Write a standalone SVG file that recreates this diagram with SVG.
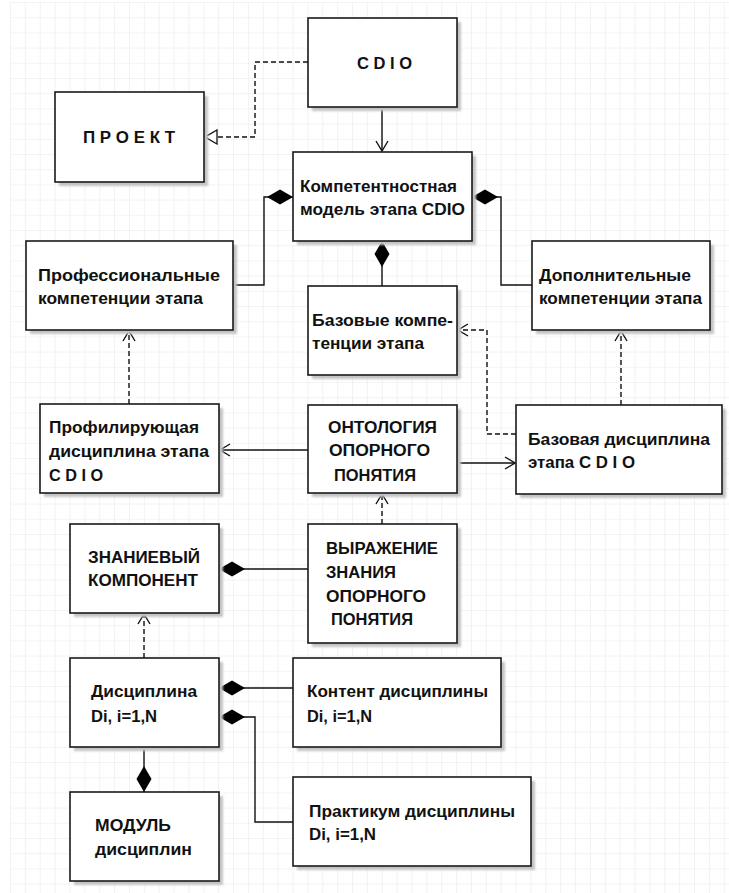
<svg xmlns="http://www.w3.org/2000/svg" width="729" height="893" viewBox="0 0 729 893">
<defs>
<pattern id="grid" x="10" y="2" width="14.87" height="15.2" patternUnits="userSpaceOnUse">
<path d="M0,0 H14.87 M0,0 V15.2" fill="none" stroke="#efefef" stroke-width="1.6"/>
</pattern>
<marker id="open" markerUnits="userSpaceOnUse" viewBox="0 0 12 14" markerWidth="12" markerHeight="14" refX="11" refY="7" orient="auto">
<path d="M1,1 L11,7 L1,13" fill="none" stroke="#111" stroke-width="1.4"/>
</marker>
<marker id="tri" markerUnits="userSpaceOnUse" viewBox="0 0 14 16" markerWidth="14" markerHeight="16" refX="13" refY="8" orient="auto">
<path d="M1,1 L13,8 L1,15 Z" fill="#fff" stroke="#111" stroke-width="1.3"/>
</marker>
<marker id="dia" markerUnits="userSpaceOnUse" viewBox="-1 -9 28 18" markerWidth="28" markerHeight="18" refX="0" refY="0" orient="auto">
<path d="M0,0 L13,-7.5 L26,0 L13,7.5 Z" fill="#000"/>
</marker>
<filter id="sh" x="-10%" y="-10%" width="130%" height="130%">
<feGaussianBlur stdDeviation="1.2"/>
</filter>
</defs>
<style>
.bx{fill:#fff;stroke:#1a1a1a;stroke-width:1.6}
.sd{fill:#c4c4c4;filter:url(#sh)}
.t{font-family:"Liberation Sans",Arial,sans-serif;font-weight:bold;font-size:16px;fill:#111}
.c{fill:none;stroke:#111;stroke-width:1.4}
.d{fill:none;stroke:#111;stroke-width:1.4;stroke-dasharray:5,3}
</style>
<rect x="0" y="0" width="729" height="893" fill="#fff"/>
<rect x="10" y="2" width="719" height="891" fill="url(#grid)"/>

<g id="connectors">
<path class="c" d="M382,107 V151" marker-end="url(#open)"/>
<path class="d" d="M308,62 H255 V137 H205" marker-end="url(#tri)"/>
<path class="c" d="M293,197 H264 V285 H233" marker-start="url(#dia)"/>
<path class="c" d="M472,197 H501 V285 H532" marker-start="url(#dia)"/>
<path class="c" d="M382,241 V286" marker-start="url(#dia)"/>
<path class="d" d="M129,404 V331" marker-end="url(#open)"/>
<path class="d" d="M621,405 V331" marker-end="url(#open)"/>
<path class="d" d="M516,434 H487 V330 H458" marker-end="url(#open)"/>
<path class="c" d="M308,450 H220" marker-end="url(#open)"/>
<path class="c" d="M457,463 H515" marker-end="url(#open)"/>
<path class="d" d="M382,524 V494" marker-end="url(#open)"/>
<path class="c" d="M219,569 H308" marker-start="url(#dia)"/>
<path class="d" d="M144,658 V614" marker-end="url(#open)"/>
<path class="c" d="M219,688 H293" marker-start="url(#dia)"/>
<path class="c" d="M219,717 H255 V822 H293" marker-start="url(#dia)"/>
<path class="c" d="M144,792 V747" marker-start="url(#dia)"/>
</g>

<g id="cdio">
<rect class="sd" x="312" y="22" width="149" height="89"/>
<rect class="bx" x="308" y="18" width="149" height="89"/>
<text class="t" x="357" y="69" textLength="55" lengthAdjust="spacingAndGlyphs">C D I O</text>
</g>
<g id="proekt">
<rect class="sd" x="59" y="96" width="149" height="90"/>
<rect class="bx" x="55" y="92" width="149" height="90"/>
<text class="t" x="83" y="143" textLength="92" lengthAdjust="spacingAndGlyphs">П Р О Е К Т</text>
</g>
<g id="komp">
<rect class="sd" x="297" y="156" width="179" height="89"/>
<rect class="bx" x="293" y="152" width="179" height="89"/>
<text class="t" x="300" y="192" textLength="157" lengthAdjust="spacingAndGlyphs">Компетентностная</text>
<text class="t" x="300" y="215" textLength="165" lengthAdjust="spacingAndGlyphs">модель этапа CDIO</text>
</g>
<g id="prof">
<rect class="sd" x="30" y="245" width="207" height="89"/>
<rect class="bx" x="26" y="241" width="207" height="89"/>
<text class="t" x="38" y="281" textLength="182" lengthAdjust="spacingAndGlyphs">Профессиональные</text>
<text class="t" x="38" y="304" textLength="165" lengthAdjust="spacingAndGlyphs">компетенции этапа</text>
</g>
<g id="baz">
<rect class="sd" x="312" y="290" width="149" height="89"/>
<rect class="bx" x="308" y="286" width="149" height="89"/>
<text class="t" x="312" y="326" textLength="141" lengthAdjust="spacingAndGlyphs">Базовые компе-</text>
<text class="t" x="312" y="349" textLength="112" lengthAdjust="spacingAndGlyphs">тенции этапа</text>
</g>
<g id="dop">
<rect class="sd" x="536" y="245" width="178" height="89"/>
<rect class="bx" x="532" y="241" width="178" height="89"/>
<text class="t" x="539" y="281" textLength="152" lengthAdjust="spacingAndGlyphs">Дополнительные</text>
<text class="t" x="539" y="304" textLength="163" lengthAdjust="spacingAndGlyphs">компетенции этапа</text>
</g>
<g id="profdisc">
<rect class="sd" x="44" y="408" width="179" height="89"/>
<rect class="bx" x="40" y="404" width="179" height="89"/>
<text class="t" x="49" y="433" textLength="150" lengthAdjust="spacingAndGlyphs">Профилирующая</text>
<text class="t" x="49" y="457" textLength="160" lengthAdjust="spacingAndGlyphs">дисциплина этапа</text>
<text class="t" x="49" y="481" textLength="54" lengthAdjust="spacingAndGlyphs">C D I O</text>
</g>
<g id="onto">
<rect class="sd" x="312" y="409" width="149" height="88"/>
<rect class="bx" x="308" y="405" width="149" height="88"/>
<text class="t" x="328" y="433" textLength="109" lengthAdjust="spacingAndGlyphs">ОНТОЛОГИЯ</text>
<text class="t" x="329" y="456" textLength="101" lengthAdjust="spacingAndGlyphs">ОПОРНОГО</text>
<text class="t" x="334" y="481" textLength="82" lengthAdjust="spacingAndGlyphs">ПОНЯТИЯ</text>
</g>
<g id="bazdisc">
<rect class="sd" x="520" y="409" width="206" height="89"/>
<rect class="bx" x="516" y="405" width="206" height="89"/>
<text class="t" x="528" y="445" textLength="182" lengthAdjust="spacingAndGlyphs">Базовая дисциплина</text>
<text class="t" x="528" y="468" textLength="107" lengthAdjust="spacingAndGlyphs">этапа C D I O</text>
</g>
<g id="znan">
<rect class="sd" x="74" y="528" width="149" height="89"/>
<rect class="bx" x="70" y="524" width="149" height="89"/>
<text class="t" x="88" y="563" textLength="112" lengthAdjust="spacingAndGlyphs">ЗНАНИЕВЫЙ</text>
<text class="t" x="88" y="586" textLength="110" lengthAdjust="spacingAndGlyphs">КОМПОНЕНТ</text>
</g>
<g id="vyr">
<rect class="sd" x="312" y="528" width="149" height="119"/>
<rect class="bx" x="308" y="524" width="149" height="119"/>
<text class="t" x="326" y="554" textLength="112" lengthAdjust="spacingAndGlyphs">ВЫРАЖЕНИЕ</text>
<text class="t" x="326" y="578" textLength="70" lengthAdjust="spacingAndGlyphs">ЗНАНИЯ</text>
<text class="t" x="326" y="602" textLength="100" lengthAdjust="spacingAndGlyphs">ОПОРНОГО</text>
<text class="t" x="331" y="625" textLength="82" lengthAdjust="spacingAndGlyphs">ПОНЯТИЯ</text>
</g>
<g id="disc">
<rect class="sd" x="74" y="662" width="149" height="89"/>
<rect class="bx" x="70" y="658" width="149" height="89"/>
<text class="t" x="91" y="697" textLength="106" lengthAdjust="spacingAndGlyphs">Дисциплина</text>
<text class="t" x="91" y="722" textLength="66" lengthAdjust="spacingAndGlyphs">Di, i=1,N</text>
</g>
<g id="kontent">
<rect class="sd" x="297" y="662" width="208" height="89"/>
<rect class="bx" x="293" y="658" width="208" height="89"/>
<text class="t" x="307" y="697" textLength="181" lengthAdjust="spacingAndGlyphs">Контент дисциплины</text>
<text class="t" x="307" y="722" textLength="65" lengthAdjust="spacingAndGlyphs">Di, i=1,N</text>
</g>
<g id="prakt">
<rect class="sd" x="297" y="781" width="238" height="89"/>
<rect class="bx" x="293" y="777" width="238" height="89"/>
<text class="t" x="309" y="817" textLength="206" lengthAdjust="spacingAndGlyphs">Практикум дисциплины</text>
<text class="t" x="309" y="840" textLength="67" lengthAdjust="spacingAndGlyphs">Di, i=1,N</text>
</g>
<g id="modul">
<rect class="sd" x="74" y="796" width="149" height="89"/>
<rect class="bx" x="70" y="792" width="149" height="89"/>
<text class="t" x="95" y="831" textLength="76" lengthAdjust="spacingAndGlyphs">МОДУЛЬ</text>
<text class="t" x="95" y="855" textLength="97" lengthAdjust="spacingAndGlyphs">дисциплин</text>
</g>
</svg>
